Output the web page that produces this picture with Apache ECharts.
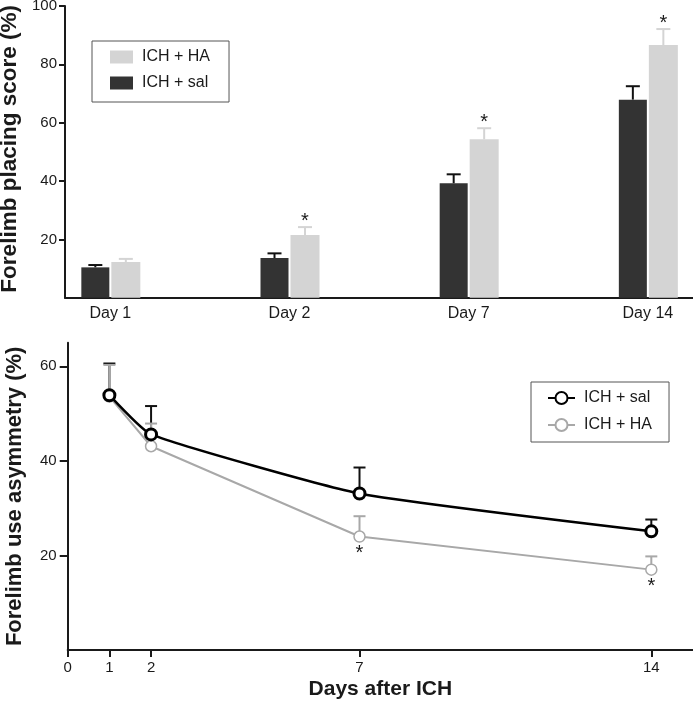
<!DOCTYPE html>
<html><head><meta charset="utf-8">
<script src="https://cdn.jsdelivr.net/npm/echarts@6/dist/echarts.min.js"></script>
<style>html,body{margin:0;padding:0;background:#fff}#c{width:693px;height:705px}</style>
</head><body><div id="c"></div>
<script>
// ---- Data: top panel (forelimb placing score) ----
const dayCats = ['Day 1', 'Day 2', 'Day 7', 'Day 14'];
const placingSal = [10.4, 13.6, 39.2, 67.9];
const placingSalErr = [11.2, 15.2, 42.3, 72.5];
const placingHA = [12.2, 21.5, 54.3, 86.6];
const placingHAErr = [13.3, 24.2, 58.1, 92.1];
const placingSig = [0, 1, 1, 1];
const placingTicks = [20, 40, 60, 80, 100];

// ---- Data: bottom panel (forelimb use asymmetry) ----
const asymDays = [1, 2, 7, 14];
const asymSal = [53.9, 45.6, 33.1, 25.1];
const asymSalErr = [60.6, 51.6, 38.6, 27.6];
const asymHA = [53.6, 43.1, 24.0, 17.0];
const asymHAErr = [60.3, 47.9, 28.3, 19.8];
const asymSig = [0, 0, 1, 1];
const asymXTicks = [0, 1, 2, 7, 14];
const asymYTicks = [20, 40, 60];

const legendLabels = {'sal': 'ICH + sal', 'ha': 'ICH + HA', 'asym-sal': 'ICH + sal', 'asym-ha': 'ICH + HA'};

const FONT = "'Liberation Sans', Arial, sans-serif";
const INK = '#1a1a1a';
const DARK = '#333333';
const LIGHT = '#d4d4d4';
const GREY = '#a8a8a8';

function barRenderer(side, color, errColor) {
  return function (params, api) {
    const i = api.value(0), v = api.value(1), e = api.value(2), sig = api.value(3);
    const base = api.coord([i, 0]);
    const top = api.coord([i, v]);
    const errTop = api.coord([i, e]);
    const c = base[0];
    const w = side < 0 ? 28 : 29;
    const x = side < 0 ? c - 29 : c + 1;
    const cx = x + w / 2;
    const children = [
      {type: 'line', shape: {x1: cx, y1: top[1], x2: cx, y2: errTop[1]}, style: {stroke: errColor, lineWidth: 2}},
      {type: 'line', shape: {x1: cx - 7, y1: errTop[1], x2: cx + 7, y2: errTop[1]}, style: {stroke: errColor, lineWidth: 2}},
      {type: 'rect', shape: {x: x, y: top[1], width: w, height: base[1] - top[1]}, style: {fill: color}}
    ];
    if (sig) {
      children.push({type: 'text', x: cx, y: errTop[1] - 6,
        style: {text: '*', fontSize: 20, fill: INK, align: 'center', verticalAlign: 'middle', fontFamily: FONT}});
    }
    return {type: 'group', children: children};
  };
}

function errRenderer(color) {
  return function (params, api) {
    const x = api.value(0), m = api.value(1), e = api.value(2), sig = api.value(3);
    const p = api.coord([x, m]);
    const q = api.coord([x, e]);
    const children = [
      {type: 'line', shape: {x1: p[0], y1: p[1], x2: q[0], y2: q[1]}, style: {stroke: color, lineWidth: 2}},
      {type: 'line', shape: {x1: q[0] - 6, y1: q[1], x2: q[0] + 6, y2: q[1]}, style: {stroke: color, lineWidth: 2}}
    ];
    if (sig) {
      children.push({type: 'text', x: p[0], y: p[1] + 17,
        style: {text: '*', fontSize: 20, fill: INK, align: 'center', verticalAlign: 'middle', fontFamily: FONT}});
    }
    return {type: 'group', children: children};
  };
}

const chart = echarts.init(document.getElementById('c'), null, {renderer: 'canvas'});

const axisLineStyle = {color: INK, width: 2};
const labelStyle = {fontSize: 15, color: INK, fontFamily: FONT};

chart.setOption({
  animation: false,
  backgroundColor: '#fff',
  textStyle: {fontFamily: FONT},
  grid: [
    {left: 65, right: 0, top: 6, height: 291.7, outerBoundsMode: 'none', containLabel: false},
    {left: 67.7, right: 0, top: 342.7, height: 307.3, outerBoundsMode: 'none', containLabel: false}
  ],
  legend: [
    {
      data: [{name: 'ha', icon: 'rect', itemStyle: {color: LIGHT}}, {name: 'sal', icon: 'rect', itemStyle: {color: DARK}}],
      formatter: function (n) { return legendLabels[n]; },
      orient: 'vertical', left: 92, top: 41,
      itemWidth: 23, itemHeight: 13, itemGap: 10,
      padding: [8, 19, 11, 18],
      borderColor: '#555', borderWidth: 1, borderRadius: 0,
      selectedMode: false,
      textStyle: {fontSize: 16, color: INK, fontFamily: FONT, padding: [0, 0, 0, 4]}
    },
    {
      data: ['asym-sal', 'asym-ha'],
      formatter: function (n) { return legendLabels[n]; },
      orient: 'vertical', left: 531, top: 382,
      itemWidth: 27, itemHeight: 15, itemGap: 11,
      padding: [8, 17, 9, 16],
      borderColor: '#555', borderWidth: 1, borderRadius: 0,
      selectedMode: false,
      textStyle: {fontSize: 16, color: INK, fontFamily: FONT, padding: [0, 0, 0, 4]}
    }
  ],
  xAxis: [
    {
      gridIndex: 0, type: 'value', min: -0.253, max: 3.252,
      axisLine: {show: true, onZero: false, lineStyle: axisLineStyle},
      axisTick: {show: false},
      splitLine: {show: false},
      axisLabel: {customValues: [0, 1, 2, 3], margin: 8, fontSize: 16, color: INK, fontFamily: FONT,
        formatter: function (v) { return dayCats[Math.round(v)]; }}
    },
    {
      gridIndex: 1, type: 'value', min: 0, max: 15,
      axisLine: {show: true, onZero: false, lineStyle: axisLineStyle},
      axisTick: {show: true, length: 7, customValues: asymXTicks, lineStyle: {color: INK, width: 2}},
      splitLine: {show: false},
      axisLabel: Object.assign({customValues: asymXTicks, margin: 10}, labelStyle),
      name: 'Days after ICH', nameLocation: 'middle', nameGap: 29,
      nameTextStyle: {fontSize: 21, fontWeight: 'bold', color: INK, fontFamily: FONT}
    }
  ],
  yAxis: [
    {
      gridIndex: 0, type: 'value', min: 0, max: 100,
      axisLine: {show: true, onZero: false, lineStyle: axisLineStyle},
      axisTick: {show: true, length: 6, customValues: placingTicks, lineStyle: {color: INK, width: 2}},
      splitLine: {show: false},
      axisLabel: Object.assign({customValues: placingTicks, margin: 8}, labelStyle),
      name: 'Forelimb placing score (%)', nameLocation: 'middle', nameGap: 35,
      nameTextStyle: {fontSize: 22.5, fontWeight: 'bold', color: INK, fontFamily: FONT, padding: [0, 0, 0, 6]}
    },
    {
      gridIndex: 1, type: 'value', min: 0, max: 65,
      axisLine: {show: true, onZero: false, lineStyle: axisLineStyle},
      axisTick: {show: true, length: 8, customValues: asymYTicks, lineStyle: {color: INK, width: 2}},
      splitLine: {show: false},
      axisLabel: Object.assign({customValues: asymYTicks, margin: 11}, labelStyle),
      name: 'Forelimb use asymmetry (%)', nameLocation: 'middle', nameGap: 42,
      nameTextStyle: {fontSize: 22, fontWeight: 'bold', color: INK, fontFamily: FONT}
    }
  ],
  series: [
    {
      name: 'sal', type: 'custom', xAxisIndex: 0, yAxisIndex: 0,
      itemStyle: {color: DARK},
      renderItem: barRenderer(-1, DARK, '#111'),
      encode: {x: 0, y: 1},
      data: placingSal.map(function (v, i) { return [i, v, placingSalErr[i], 0]; })
    },
    {
      name: 'ha', type: 'custom', xAxisIndex: 0, yAxisIndex: 0,
      itemStyle: {color: LIGHT},
      renderItem: barRenderer(1, LIGHT, LIGHT),
      encode: {x: 0, y: 1},
      data: placingHA.map(function (v, i) { return [i, v, placingHAErr[i], placingSig[i]]; })
    },
    {
      name: 'err-sal', type: 'custom', xAxisIndex: 1, yAxisIndex: 1, z: 1,
      renderItem: errRenderer('#111'),
      encode: {x: 0, y: 1},
      data: asymDays.map(function (d, i) { return [d, asymSal[i], asymSalErr[i], 0]; })
    },
    {
      name: 'err-ha', type: 'custom', xAxisIndex: 1, yAxisIndex: 1, z: 1,
      renderItem: errRenderer(GREY),
      encode: {x: 0, y: 1},
      data: asymDays.map(function (d, i) { return [d, asymHA[i], asymHAErr[i], asymSig[i]]; })
    },
    {
      name: 'asym-ha', type: 'line', xAxisIndex: 1, yAxisIndex: 1, z: 3,
      symbol: 'circle', symbolSize: 11,
      itemStyle: {color: '#fff', borderColor: GREY, borderWidth: 1.5},
      lineStyle: {color: GREY, width: 2},
      data: asymDays.map(function (d, i) { return [d, asymHA[i]]; })
    },
    {
      name: 'asym-sal', type: 'line', xAxisIndex: 1, yAxisIndex: 1, z: 4,
      symbol: 'circle', symbolSize: 11, smooth: 0.15,
      itemStyle: {color: '#fff', borderColor: '#000', borderWidth: 3},
      lineStyle: {color: '#000', width: 2.5},
      data: asymDays.map(function (d, i) { return [d, asymSal[i]]; })
    }
  ]
});
</script>
</body></html>
